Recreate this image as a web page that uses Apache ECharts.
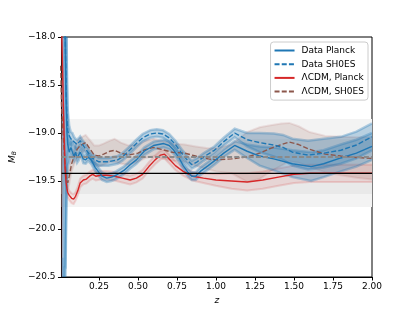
<!DOCTYPE html>
<html>
<head>
<meta charset="utf-8">
<script src="https://cdn.jsdelivr.net/npm/echarts@6/dist/echarts.min.js"></script>
<style>html,body{margin:0;padding:0;background:#fff;}#c{width:415px;height:311px;}</style>
</head>
<body>
<div id="c"></div>
<script>
// ---------- data ----------
const xTicks = [0.25, 0.5, 0.75, 1.0, 1.25, 1.5, 1.75, 2.0];
const xMin = 0.01, xMax = 2.0;
const planckMB = -19.42;
const sh0esMB = -19.25;
const outerShade = [-18.855, -19.77];
const innerShade = [-19.065, -19.635];

// Data Planck (solid blue)
const dpZ = [0.015,0.02,0.025,0.03,0.035,0.04,0.045,0.05,0.06,0.07,0.08,0.09,0.1,0.11,0.12,0.13,0.14,0.15,0.165,0.18,0.2,0.227,0.25,0.27,0.3,0.33,0.36,0.41,0.45,0.49,0.54,0.6,0.665,0.7,0.73,0.76,0.79,0.82,0.845,0.87,0.9,0.95,0.99,1.05,1.12,1.2,1.28,1.37,1.49,1.61,1.69,1.8,1.9,2.0];
const dpM = [-16.0,-16.5,-17.0,-17.6,-18.3,-18.75,-19.0,-19.12,-19.2,-19.15,-19.2,-19.24,-19.2,-19.26,-19.24,-19.2,-19.22,-19.27,-19.28,-19.25,-19.28,-19.36,-19.41,-19.45,-19.47,-19.46,-19.44,-19.39,-19.33,-19.28,-19.19,-19.13,-19.11,-19.13,-19.18,-19.25,-19.34,-19.41,-19.45,-19.45,-19.4,-19.34,-19.29,-19.21,-19.13,-19.19,-19.24,-19.27,-19.32,-19.35,-19.32,-19.26,-19.21,-19.14];
const dpErr = [4.5,4.5,4.0,3.0,2.3,1.2,0.5,0.22,0.1,0.07,0.05,0.05,0.05,0.05,0.045,0.045,0.045,0.045,0.04,0.04,0.04,0.04,0.04,0.04,0.04,0.04,0.04,0.04,0.04,0.04,0.04,0.04,0.04,0.04,0.04,0.04,0.04,0.04,0.04,0.04,0.04,0.04,0.04,0.04,0.045,0.07,0.1,0.12,0.14,0.15,0.14,0.14,0.14,0.14];

// Data SH0ES (dashed blue)
const dsZ = [0.015,0.02,0.025,0.03,0.035,0.04,0.045,0.05,0.06,0.07,0.08,0.09,0.1,0.11,0.12,0.13,0.145,0.155,0.175,0.205,0.25,0.31,0.37,0.4,0.44,0.49,0.53,0.58,0.62,0.66,0.7,0.74,0.78,0.81,0.845,0.88,0.92,0.99,1.05,1.12,1.2,1.28,1.37,1.43,1.49,1.59,1.69,1.8,1.9,2.0];
const dsM = [-15.8,-16.3,-16.8,-17.4,-18.1,-18.6,-18.85,-18.98,-19.03,-19.06,-19.05,-19.09,-19.11,-19.12,-19.1,-19.08,-19.12,-19.14,-19.19,-19.26,-19.3,-19.3,-19.28,-19.25,-19.19,-19.11,-19.05,-19.01,-19.0,-19.01,-19.05,-19.12,-19.21,-19.27,-19.33,-19.3,-19.25,-19.18,-19.09,-19.0,-19.07,-19.1,-19.125,-19.15,-19.2,-19.23,-19.21,-19.18,-19.125,-19.04];
const dsErr = [4.5,4.5,4.0,3.0,2.3,1.2,0.5,0.22,0.1,0.07,0.05,0.05,0.05,0.05,0.045,0.045,0.045,0.045,0.04,0.04,0.04,0.04,0.04,0.04,0.04,0.04,0.04,0.04,0.04,0.04,0.04,0.04,0.04,0.04,0.04,0.04,0.04,0.04,0.04,0.045,0.07,0.1,0.12,0.13,0.14,0.15,0.15,0.14,0.14,0.14];

// LCDM Planck (solid red)
const rpZ = [0.005,0.01,0.015,0.02,0.025,0.033,0.04,0.045,0.05,0.06,0.075,0.088,0.1,0.115,0.13,0.15,0.17,0.19,0.21,0.23,0.26,0.3,0.35,0.4,0.45,0.49,0.53,0.57,0.61,0.645,0.67,0.7,0.74,0.79,0.85,0.92,1.0,1.1,1.2,1.3,1.4,1.5,1.6,1.75,2.0];
const rpM = [-17.5,-17.85,-18.2,-18.55,-18.9,-19.38,-19.52,-19.58,-19.62,-19.65,-19.68,-19.69,-19.66,-19.6,-19.52,-19.49,-19.48,-19.45,-19.43,-19.45,-19.44,-19.44,-19.45,-19.47,-19.49,-19.47,-19.43,-19.35,-19.28,-19.23,-19.22,-19.27,-19.34,-19.4,-19.45,-19.47,-19.49,-19.5,-19.51,-19.49,-19.46,-19.43,-19.42,-19.42,-19.42];
const rpErr = [3.5,2.8,0.5,0.25,0.12,0.07,0.05,0.05,0.05,0.05,0.05,0.05,0.045,0.045,0.045,0.045,0.045,0.045,0.045,0.045,0.045,0.045,0.045,0.045,0.045,0.045,0.045,0.045,0.045,0.045,0.045,0.045,0.045,0.045,0.045,0.05,0.06,0.08,0.09,0.09,0.09,0.09,0.09,0.09,0.09];

// LCDM SH0ES (dashed brown)
const bsZ = [0.005,0.01,0.02,0.03,0.04,0.05,0.06,0.075,0.09,0.11,0.13,0.165,0.19,0.22,0.25,0.28,0.32,0.35,0.39,0.44,0.5,0.55,0.6,0.65,0.72,0.8,0.87,0.95,1.0,1.1,1.2,1.28,1.35,1.42,1.47,1.53,1.6,1.7,1.8,1.9,2.0];
const bsM = [-18.3,-18.7,-19.0,-19.25,-19.45,-19.52,-19.45,-19.32,-19.25,-19.17,-19.13,-19.1,-19.16,-19.23,-19.24,-19.22,-19.19,-19.18,-19.21,-19.23,-19.21,-19.17,-19.15,-19.17,-19.2,-19.21,-19.24,-19.27,-19.28,-19.27,-19.25,-19.21,-19.16,-19.12,-19.095,-19.12,-19.17,-19.22,-19.24,-19.255,-19.265];
const bsErr = [3.5,2.8,0.3,0.12,0.08,0.08,0.08,0.08,0.08,0.08,0.08,0.08,0.09,0.1,0.11,0.11,0.11,0.12,0.11,0.1,0.09,0.09,0.09,0.09,0.09,0.09,0.1,0.11,0.12,0.15,0.26,0.27,0.24,0.22,0.2,0.19,0.18,0.19,0.2,0.21,0.22];

// ---------- helpers ----------
const FONT = 'DejaVu Sans';
const BLUE = '#1f77b4', RED = '#d62728', BROWN = '#8c564b';

function pairs(zs, ms) { return zs.map((z, i) => [z, ms[i]]); }

function bandSeries(zs, lo, hi, fill, edge, edgeW, zLevel) {
  return {
    type: 'custom', coordinateSystem: 'cartesian2d', silent: true, z: zLevel,
    data: [[1, -19]],
    renderItem: function (params, api) {
      const up = zs.map((z, i) => api.coord([z, hi[i]]));
      const dn = zs.map((z, i) => api.coord([z, lo[i]]));
      const poly = up.concat(dn.slice().reverse());
      const cs = params.coordSys;
      const children = [{ type: 'polygon', shape: { points: poly }, style: { fill: fill, stroke: null } }];
      if (edge) {
        children.push({ type: 'polyline', shape: { points: up }, style: { fill: null, stroke: edge, lineWidth: edgeW } });
        children.push({ type: 'polyline', shape: { points: dn }, style: { fill: null, stroke: edge, lineWidth: edgeW } });
      }
      return { type: 'group', children: children,
        clipPath: { type: 'rect', shape: { x: cs.x, y: cs.y, width: cs.width, height: cs.height } } };
    }
  };
}
function errBand(zs, ms, es, fill, edge, edgeW, zLevel) {
  return bandSeries(zs, ms.map((m, i) => m - es[i]), ms.map((m, i) => m + es[i]), fill, edge, edgeW, zLevel);
}
function lineSeries(name, zs, ms, color, dash, width, zLevel) {
  return { name: name, type: 'line', data: pairs(zs, ms), symbol: 'none', smooth: false, z: zLevel,
    clip: true, silent: true,
    lineStyle: { color: color, width: width, type: dash ? [5, 2.2] : 'solid' },
    itemStyle: { color: color } };
}

const series = [
  bandSeries([xMin, xMax], [outerShade[1], outerShade[1]], [outerShade[0], outerShade[0]], '#f3f3f3', null, 0, 1),
  bandSeries([xMin, xMax], [innerShade[1], innerShade[1]], [innerShade[0], innerShade[0]], '#e9e9e9', null, 0, 1),
  errBand(rpZ, rpM, rpErr, 'rgba(214,39,40,0.10)', 'rgba(214,39,40,0.16)', 2, 2),
  errBand(bsZ, bsM, bsErr, 'rgba(140,86,75,0.16)', 'rgba(180,90,90,0.14)', 2, 2),
  errBand(dpZ, dpM, dpErr, 'rgba(31,119,180,0.28)', 'rgba(31,119,180,0.32)', 2.5, 3),
  errBand(dsZ, dsM, dsErr, 'rgba(31,119,180,0.28)', 'rgba(31,119,180,0.32)', 2.5, 3),
  lineSeries('ΛCDM, SH0ES', bsZ, bsM, BROWN, true, 1.4, 5),
  lineSeries('ΛCDM, Planck', rpZ, rpM, RED, false, 1.4, 5),
  lineSeries('Data Planck', dpZ, dpM, BLUE, false, 1.4, 6),
  lineSeries('Data SH0ES', dsZ, dsM, BLUE, true, 1.4, 6),
  { type: 'line', data: [[xMin, sh0esMB], [xMax, sh0esMB]], symbol: 'none', silent: true, z: 7,
    lineStyle: { color: '#8a8a8a', width: 1.8, type: [5, 2.2] } },
  { type: 'line', data: [[xMin, planckMB], [xMax, planckMB]], symbol: 'none', silent: true, z: 7,
    lineStyle: { color: '#000', width: 1.3 } }
];

const chart = echarts.init(document.getElementById('c'), null, { renderer: 'canvas' });
chart.setOption({
  animation: false,
  backgroundColor: '#fff',
  textStyle: { fontFamily: FONT },
  grid: { left: 52, right: 43, top: 37, bottom: 34, show: true, borderColor: '#000', borderWidth: 1, backgroundColor: 'transparent' },
  legend: {
    data: ['Data Planck', 'Data SH0ES', 'ΛCDM, Planck', 'ΛCDM, SH0ES'],
    orient: 'vertical', right: 47, top: 42,
    backgroundColor: 'rgba(255,255,255,0.85)', borderColor: '#cccccc', borderWidth: 1, borderRadius: 3,
    padding: [4, 4, 4, 3], itemGap: 4.7, itemWidth: 20, itemHeight: 9,
    itemStyle: { opacity: 0, borderWidth: 0 },
    textStyle: { fontSize: 9, fontFamily: FONT, color: '#000', padding: [0, 0, 0, 2] }
  },
  xAxis: {
    type: 'value', min: xMin, max: xMax,
    axisLine: { show: true, onZero: false, lineStyle: { color: '#000', width: 1 } },
    axisTick: { show: true, length: 3.5, lineStyle: { color: '#000', width: 1 }, customValues: xTicks },
    axisLabel: { customValues: xTicks, formatter: v => Number(v).toFixed(2), fontSize: 9, color: '#000', margin: 5, fontFamily: FONT },
    splitLine: { show: false },
    name: 'z', nameLocation: 'middle', nameGap: 12,
    nameTextStyle: { fontStyle: 'italic', fontSize: 9, color: '#000', fontFamily: FONT }
  },
  yAxis: {
    type: 'value', min: -20.5, max: -18.0, interval: 0.5,
    axisLine: { show: true, onZero: false, lineStyle: { color: '#000', width: 1 } },
    axisTick: { show: true, length: 3.5, lineStyle: { color: '#000', width: 1 } },
    axisLabel: { formatter: v => (v < 0 ? '\u2212' : '') + Math.abs(v).toFixed(1), fontSize: 9, color: '#000', margin: 6, fontFamily: FONT },
    splitLine: { show: false },
    name: '{m|M}{s|B}', nameLocation: 'middle', nameGap: 37, nameRotate: 90,
    nameTextStyle: { color: '#000', fontFamily: FONT,
      rich: { m: { fontStyle: 'italic', fontSize: 9, fontFamily: FONT, lineHeight: 12, verticalAlign: 'bottom' },
              s: { fontStyle: 'italic', fontSize: 6, fontFamily: FONT, lineHeight: 12, verticalAlign: 'bottom', padding: [0, 0, 0, 0] } } }
  },
  series: series
});
</script>
</body>
</html>
